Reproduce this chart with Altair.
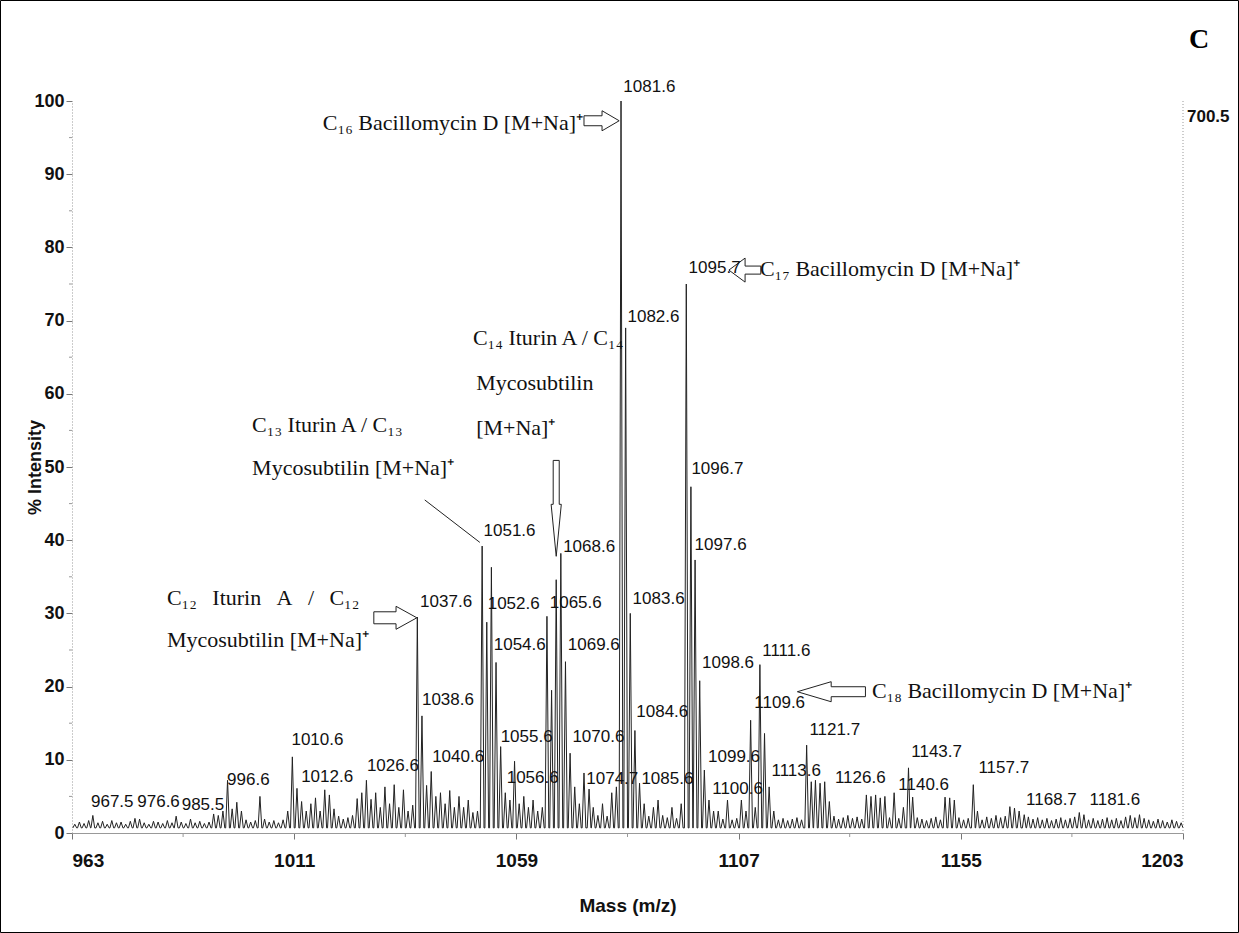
import altair as alt
import pandas as pd

# ---------------- data ----------------
# background noise bump heights (% intensity) at m/z = k + 0.6, k = 963 ... 1202
noise_963 = [1.2, 1.5, 1.3, 1.7, 2.2, 1.4, 1.6, 1.2, 1.7, 1.4, 1.5, 1.2, 1.6, 1.3, 1.9, 1.4, 1.2, 1.6, 1.5, 1.3]
noise_983 = [1.7, 1.4, 2.1, 1.5, 1.3, 1.9, 1.4, 1.6, 1.3, 1.5, 2.1, 2.4, 1.8, 2.1, 1.7, 1.9, 1.6, 1.8, 1.5, 1.7]
noise_1003 = [1.6, 1.9, 1.5, 1.7, 1.4, 1.8, 2.1, 1.9, 1.7, 2.0, 1.6, 2.2, 1.8, 1.9, 1.7, 2.1, 1.8, 2.3, 1.9, 2.1]
noise_1023 = [2.4, 2.2, 2.5, 2.1, 2.7, 2.3, 2.5, 2.2, 2.6, 2.4, 2.3, 2.7, 2.5, 2.4, 2.6, 2.3, 2.5, 2.2, 2.7, 2.4]
noise_1043 = [2.5, 2.3, 2.6, 2.2, 2.4, 2.1, 2.3, 2.5, 2.2, 2.4, 2.6, 2.3, 2.5, 2.2, 2.4, 2.7, 2.3, 2.5, 2.2, 2.4]
noise_1063 = [2.3, 2.5, 2.2, 2.4, 2.6, 2.3, 2.5, 2.2, 2.4, 2.1, 2.3, 2.5, 2.2, 2.4, 2.6, 2.3, 2.5, 2.2, 2.4, 2.3]
noise_1083 = [2.5, 2.2, 2.4, 2.1, 2.3, 2.5, 2.2, 2.4, 2.1, 2.3, 2.0, 2.2, 2.4, 2.1, 2.3, 2.5, 2.2, 2.4, 2.1, 2.3]
noise_1103 = [1.9, 2.1, 1.8, 2.0, 2.2, 1.9, 2.1, 1.8, 2.0, 2.2, 1.9, 2.1, 1.8, 2.0, 1.7, 1.9, 2.1, 1.8, 2.0, 2.2]
noise_1123 = [1.9, 2.1, 1.8, 2.0, 2.3, 1.9, 2.1, 2.4, 2.0, 2.2, 1.9, 2.1, 1.8, 2.0, 2.2, 1.9, 2.1, 1.8, 2.0, 2.3]
noise_1143 = [2.0, 1.8, 2.1, 1.9, 1.7, 2.0, 2.2, 1.8, 2.0, 1.7, 1.9, 2.1, 1.8, 2.0, 1.7, 1.9, 1.8, 2.2, 2.0, 2.4]
noise_1163 = [2.1, 2.3, 1.9, 2.1, 1.8, 2.0, 2.2, 1.9, 2.1, 1.8, 2.0, 1.7, 1.9, 2.1, 1.8, 2.0, 2.2, 1.9, 2.1, 1.8]
noise_1183 = [2.0, 1.7, 1.9, 2.1, 1.8, 2.0, 1.7, 2.2, 2.4, 2.1, 2.3, 2.0, 1.8, 1.6, 1.9, 1.7, 1.5, 1.8, 1.6, 1.4]
noise = (noise_963 + noise_983 + noise_1003 + noise_1023 + noise_1043 + noise_1063
         + noise_1083 + noise_1103 + noise_1123 + noise_1143 + noise_1163 + noise_1183)

# resolved peaks (m/z, % intensity)
peak_mz = [967.5, 976.6, 985.5, 993.6, 995.6, 996.6, 997.6, 998.6, 999.6, 1003.6, 1009.6,
           1010.6, 1011.6, 1012.6, 1013.6, 1014.6, 1015.6, 1016.6, 1017.6, 1018.6, 1019.6,
           1024.6, 1025.6, 1026.6, 1027.6, 1028.6, 1029.6, 1030.6, 1031.6, 1032.6, 1033.6,
           1034.6, 1035.6, 1036.6, 1037.6, 1038.6, 1039.6, 1040.6, 1041.6, 1042.6, 1043.6,
           1044.6, 1045.6, 1046.6, 1047.6, 1048.6, 1049.6, 1050.6,
           1051.6, 1052.6, 1053.6, 1054.6, 1055.6, 1056.6, 1057.6, 1058.6, 1059.6, 1060.6,
           1061.6, 1062.6, 1063.6, 1064.6, 1065.6, 1066.6, 1067.6, 1068.6, 1069.6, 1070.6,
           1071.6, 1072.6, 1073.6, 1074.7, 1075.6, 1077.6, 1079.6, 1080.6,
           1081.6, 1082.6, 1083.6, 1084.6, 1085.6, 1086.6, 1088.6, 1089.6, 1092.6, 1094.6,
           1095.7, 1096.7, 1097.6, 1098.6, 1099.6, 1100.6, 1101.6, 1102.6, 1104.6, 1107.6,
           1108.6, 1109.6, 1110.6, 1111.6, 1112.6, 1113.6, 1114.6,
           1121.7, 1122.7, 1123.6, 1124.6, 1125.6, 1126.6,
           1134.6, 1135.6, 1136.6, 1137.6, 1138.6, 1140.6, 1142.6, 1143.7, 1144.6,
           1151.6, 1152.6, 1153.6, 1157.7, 1158.6, 1165.6, 1166.6, 1167.6, 1168.7,
           1180.6, 1181.6, 1193.6]
peak_int = [2.4, 2.0, 2.3, 2.6, 3.0, 7.2, 3.3, 4.2, 3.0, 5.0, 3.0,
            10.4, 6.1, 4.3, 3.0, 4.0, 4.8, 3.0, 5.9, 5.2, 3.3,
            4.7, 5.5, 7.2, 4.6, 5.5, 3.5, 6.3, 4.0, 6.6, 3.5,
            5.9, 3.0, 3.8, 29.5, 16.0, 6.5, 8.4, 5.0, 5.5, 4.0,
            5.8, 3.5, 5.0, 3.5, 4.5, 2.8, 3.0,
            39.2, 28.8, 36.3, 23.3, 11.8, 5.5, 4.5, 9.8, 4.0, 5.0,
            3.5, 4.5, 3.0, 3.5, 29.6, 19.5, 34.6, 38.2, 23.4, 10.9,
            6.3, 4.0, 8.2, 6.0, 3.5, 4.0, 5.5, 6.3,
            100.0, 69.0, 30.0, 14.0, 6.8, 4.0, 3.5, 4.5, 3.5, 4.0,
            75.0, 47.3, 37.3, 20.8, 8.6, 4.5, 3.0, 3.0, 4.5, 4.5,
            3.0, 15.4, 3.5, 23.0, 13.6, 6.3, 3.0,
            12.0, 7.0, 7.2, 6.8, 7.0, 4.3,
            5.2, 5.0, 5.2, 4.8, 5.0, 5.5, 3.5, 8.9, 4.9,
            4.9, 4.8, 4.5, 6.6, 3.0, 3.6, 3.4, 3.0, 2.5,
            2.8, 2.5, 2.5]

# peak labels: text, m/z of the label's left edge, % height of the label's centre
label_text = ["1081.6", "1095.7", "1082.6", "1096.7", "1097.6", "1051.6", "1068.6", "1037.6",
              "1052.6", "1065.6", "1083.6", "1054.6", "1069.6", "1098.6", "1111.6", "1109.6",
              "1038.6", "1084.6", "1121.7", "1055.6", "1070.6", "1040.6", "1099.6", "1143.7",
              "1157.7", "996.6", "1010.6", "1012.6", "1026.6", "1056.6", "1074.7", "1085.6",
              "1100.6", "1113.6", "1126.6", "1140.6", "1168.7", "1181.6", "967.5", "976.6", "985.5"]
label_mz = [1082.1, 1096.2, 1083.0, 1096.8, 1097.5, 1051.9, 1069.1, 1038.2,
            1052.8, 1066.2, 1084.1, 1054.1, 1070.1, 1099.1, 1112.1, 1110.4,
            1038.6, 1084.9, 1122.3, 1055.6, 1071.1, 1040.8, 1100.4, 1144.3,
            1158.8, 996.5, 1010.4, 1012.5, 1026.7, 1056.9, 1074.1, 1086.0,
            1101.3, 1114.1, 1127.8, 1141.5, 1169.1, 1182.8, 967.1, 977.1, 986.7]
label_y = [101.9, 77.2, 70.5, 49.7, 39.3, 41.3, 39.1, 31.6,
           31.3, 31.4, 32.0, 25.7, 25.7, 23.2, 24.9, 17.8,
           18.2, 16.5, 14.1, 13.1, 13.1, 10.4, 10.4, 11.1,
           8.9, 7.2, 12.7, 7.7, 9.2, 7.5, 7.4, 7.4,
           6.0, 8.5, 7.5, 6.6, 4.5, 4.5, 4.2, 4.2, 3.8]

# compound annotations: text, m/z anchor, % height, alignment
GAP = "\u2002\u2009"
note_text = ["C\u2081\u2086 Bacillomycin D [M+Na]\u207a",
             "C\u2081\u2087 Bacillomycin D [M+Na]\u207a",
             "C\u2081\u2088 Bacillomycin D [M+Na]\u207a",
             "C\u2081\u2083 Iturin A / C\u2081\u2083",
             "Mycosubtilin [M+Na]\u207a",
             "C\u2081\u2084 Iturin A / C\u2081\u2084",
             "Mycosubtilin",
             "[M+Na]\u207a",
             "C\u2081\u2082" + GAP + "Iturin" + GAP + "A" + GAP + "/" + GAP + "C\u2081\u2082",
             "Mycosubtilin [M+Na]\u207a"]
note_mz = [1073.4, 1111.6, 1135.8, 1001.9, 1001.9, 1049.6, 1050.3, 1050.3, 983.5, 983.5]
note_y = [97.0, 77.0, 19.4, 55.7, 49.9, 67.6, 61.5, 55.3, 32.1, 26.4]
note_align = ["right", "left", "left", "left", "left", "left", "left", "left", "left", "left"]

# hollow arrows: name, direction, tip m/z, tip %, length, head length, shaft half-width, head half-width
arrow_name = ["C16", "C17", "C14", "C12", "C18"]
arrow_dir = ["right", "left", "down", "right", "left"]
arrow_tip_mz = [1081.2, 1104.9, 1067.6, 1037.5, 1119.7]
arrow_tip_y = [97.3, 76.9, 37.8, 29.4, 19.3]
arrow_len = [7.6, 6.9, 13.1, 9.3, 14.7]
arrow_head = [3.7, 3.5, 7.1, 4.5, 7.3]
arrow_shaft = [0.68, 0.55, 0.65, 0.82, 0.68]
arrow_halfw = [1.37, 1.64, 1.1, 1.57, 1.37]

# leader line for the C13 annotation
leader_mz = [1039.2, 1051.1]
leader_y = [45.5, 39.7]

x_ticks = [963, 1011, 1059, 1107, 1155, 1203]
x_minor = [987, 1035, 1083, 1131, 1179]
y_ticks = [0, 10, 20, 30, 40, 50, 60, 70, 80, 90, 100]
y_minor = [5, 15, 25, 35, 45, 55, 65, 75, 85, 95]

TROUGH = 0.7
HALF = 0.4

# ---------------- build tables ----------------
peaks = {int(round(m - 0.6)): (m, h) for m, h in zip(peak_mz, peak_int)}
rows = []
for i, k in enumerate(range(963, 1203)):
    m, h = peaks.get(k, (k + 0.6, noise[i]))
    rows += [{"mz": m - HALF, "inten": TROUGH}, {"mz": m, "inten": h}, {"mz": m + HALF, "inten": TROUGH}]
spec = pd.DataFrame(rows)

labels = pd.DataFrame({"t": label_text, "mz": label_mz, "y": label_y})
notes = pd.DataFrame({"t": note_text, "mz": note_mz, "y": note_y, "al": note_align})

arows = []
for n, d, xt, yt, L, H, s, h in zip(arrow_name, arrow_dir, arrow_tip_mz, arrow_tip_y,
                                    arrow_len, arrow_head, arrow_shaft, arrow_halfw):
    outline = [(-L, s), (-H, s), (-H, h), (0, 0), (-H, -h), (-H, -s), (-L, -s), (-L, s)]
    for j, (u, v) in enumerate(outline):
        if d == "right":
            x, y = xt + u, yt + v
        elif d == "left":
            x, y = xt - u, yt + v
        else:
            x, y = xt + v, yt - u
        arows.append({"a": n, "o": j, "mz": x, "y": y})
arrows = pd.DataFrame(arows)
leader = pd.DataFrame({"mz": leader_mz, "y": leader_y})

NARROW = "Liberation Sans Narrow, Arial Narrow, Liberation Sans, Arial, sans-serif"
SANS = "Liberation Sans, Arial, sans-serif"
SERIF = "Liberation Serif, Times New Roman, serif"

xs = alt.Scale(domain=[963, 1203], nice=False, zero=False)
ys = alt.Scale(domain=[0, 100], nice=False)

trace = alt.Chart(spec).mark_line(color="#222222", strokeWidth=1).encode(
    x=alt.X("mz:Q", scale=xs, axis=alt.Axis(
        values=x_ticks, title="Mass (m/z)", grid=False, format="d",
        labelFont=NARROW, labelFontSize=19, labelFontWeight="bold", labelColor="#111",
        labelPadding=12, tickSize=6, tickColor="#777", domainColor="#999",
        titleFont=NARROW, titleFontSize=19, titleFontWeight="bold", titleColor="#111",
        titleY=72, titleBaseline="middle")),
    y=alt.Y("inten:Q", scale=ys, axis=alt.Axis(
        values=y_ticks, title="% Intensity", grid=False,
        labelFont=NARROW, labelFontSize=18, labelFontWeight="bold", labelColor="#111",
        labelPadding=2, tickSize=6, tickColor="#777", domainColor="#999", domainDash=[1, 2],
        titleFont=SANS, titleFontSize=18, titleFontWeight="bold", titleColor="#111",
        titleX=-37, titleY=366, titleBaseline="middle")),
)

peak_labels = alt.Chart(labels).mark_text(
    align="left", baseline="middle", font=NARROW, fontSize=17, color="#111"
).encode(x=alt.X("mz:Q", scale=xs), y=alt.Y("y:Q", scale=ys), text="t:N")

note_left = alt.Chart(notes).transform_filter(alt.datum.al == "left").mark_text(
    align="left", baseline="middle", font=SERIF, fontSize=22, color="#111"
).encode(x=alt.X("mz:Q", scale=xs), y=alt.Y("y:Q", scale=ys), text="t:N")
note_right = alt.Chart(notes).transform_filter(alt.datum.al == "right").mark_text(
    align="right", baseline="middle", font=SERIF, fontSize=22, color="#111"
).encode(x=alt.X("mz:Q", scale=xs), y=alt.Y("y:Q", scale=ys), text="t:N")

arrow_marks = alt.Chart(arrows).mark_line(color="#222", strokeWidth=1).encode(
    x=alt.X("mz:Q", scale=xs), y=alt.Y("y:Q", scale=ys), detail="a:N", order="o:Q")

leader_mark = alt.Chart(leader).mark_line(color="#222", strokeWidth=1).encode(
    x=alt.X("mz:Q", scale=xs), y=alt.Y("y:Q", scale=ys))

xminor = alt.Chart(pd.DataFrame({"mz": x_minor})).mark_rule(color="#999").encode(
    x=alt.X("mz:Q", scale=xs), y=alt.value(732), y2=alt.value(736))
yminor = alt.Chart(pd.DataFrame({"v": y_minor})).mark_rule(color="#999").encode(
    y=alt.Y("v:Q", scale=ys), x=alt.value(-3), x2=alt.value(0))

right_rule = alt.Chart(pd.DataFrame({"mz": [1203]})).mark_rule(
    color="#999", strokeDash=[1, 2]).encode(
    x=alt.X("mz:Q", scale=xs), y=alt.value(0), y2=alt.value(732))

right_max = alt.Chart(pd.DataFrame({"mz": [1203], "y": [97.8], "t": ["700.5"]})).mark_text(
    align="left", baseline="middle", font=NARROW, fontSize=17, fontWeight="bold", dx=4, color="#111"
).encode(x=alt.X("mz:Q", scale=xs), y=alt.Y("y:Q", scale=ys), text="t:N")

panel = alt.Chart(pd.DataFrame({"mz": [1203], "y": [108.3], "t": ["C"]})).mark_text(
    align="center", baseline="middle", font=SERIF, fontSize=28, fontWeight="bold", dx=16, color="#000"
).encode(x=alt.X("mz:Q", scale=xs), y=alt.Y("y:Q", scale=ys), text="t:N")

frame = alt.Chart(pd.DataFrame({"a": [0]})).mark_rect(
    fill=None, stroke="#000", strokeWidth=1).encode(
    x=alt.value(-71.5), x2=alt.value(1166.5), y=alt.value(-100.5), y2=alt.value(831.5))

chart = alt.layer(
    trace, xminor, yminor, right_rule, arrow_marks, leader_mark,
    peak_labels, note_left, note_right, right_max, panel, frame
).properties(
    width=1111, height=732,
    autosize=alt.AutoSizeParams(type="none"),
    padding={"left": 72, "top": 101, "right": 56, "bottom": 100},
    background="white",
).configure_view(stroke=None)

chart.save("out.html", embed_options={"renderer": "svg", "actions": False})
